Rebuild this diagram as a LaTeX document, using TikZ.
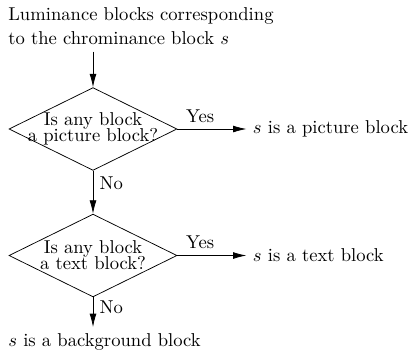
\documentclass[tikz,border=0pt]{standalone}
\usepackage{tikz}
\usetikzlibrary{shapes.geometric, arrows.meta, positioning, calc}
\tikzstyle{decision} = [diamond, draw=black, minimum width=90.3pt, minimum height=44.5pt, inner sep=0pt]
\tikzstyle{plain} = [inner sep=3.33pt]
\tikzstyle{arrow} = [thin,-{Latex[length=7.2pt,width=3.7pt]}]

\begin{document}
\begin{tikzpicture}[x=0.5375pt, y=-0.5375pt]
    \useasboundingbox (0,0) rectangle (410,351);
    % Input and decisions
    \node[plain, align=left, anchor=north west] (lum) at (1.8,1.2) {Luminance blocks corresponding\\[1pt]to the chrominance block $s$};
    \node[decision, label={[align=center]center:{Is any block\\[-3.3pt]a picture block?}}] (q1) at (93,129) {};
    \node[decision, below=23.1pt of q1, label={[align=center]center:{Is any block\\[-3.3pt]a text block?}}] (q2) {};

    % Outcomes
    \node[plain, right=37.1pt of q1] (pic) {$s$ is a picture block};
    \node[plain, right=37.1pt of q2] (txt) {$s$ is a text block};
    \node[plain, anchor=north west] (bg) at ($(q2.south -| lum.west)+(0,-16pt)$) {$s$ is a background block};

    % Connections
    \draw[arrow] (q1 |- lum.south) -- (q1);
    \draw[arrow] (q1) -- node[pos=0.33, above] {Yes} (pic);
    \draw[arrow] (q1) -- node[pos=0.3, right] {No} (q2);
    \draw[arrow] (q2) -- node[pos=0.33, above] {Yes} (txt);
    \draw[arrow] (q2) -- node[pos=0.35, right] {No} (q2 |- bg.north);

\end{tikzpicture}
\end{document}
